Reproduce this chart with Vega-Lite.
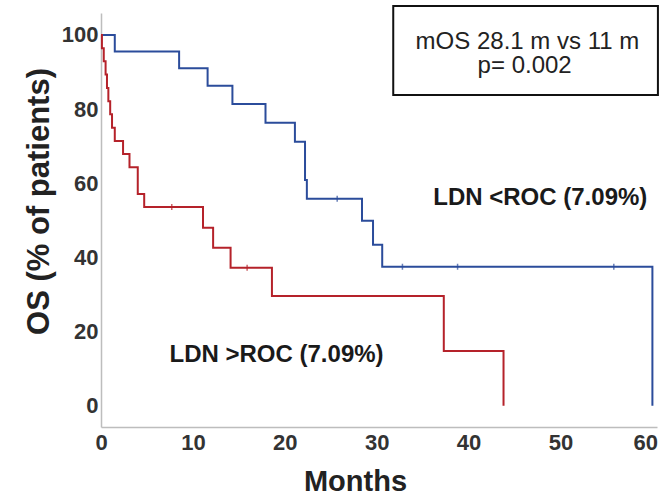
{
  "$schema": "https://vega.github.io/schema/vega-lite/v6.json",
  "width": 556,
  "height": 414,
  "autosize": {"type": "none"},
  "padding": {"left": 101, "top": 13, "right": 2, "bottom": 71},
  "background": "white",
  "config": {"view": {"stroke": null}},
  "datasets": {
    "curves": [
      {"group": "low", "month": 0, "os": 100},
      {"group": "low", "month": 1.5, "os": 95.5},
      {"group": "low", "month": 8.5, "os": 91.0},
      {"group": "low", "month": 11.6, "os": 86.3},
      {"group": "low", "month": 14.3, "os": 81.4},
      {"group": "low", "month": 17.9, "os": 76.3},
      {"group": "low", "month": 21.1, "os": 71.2},
      {"group": "low", "month": 22.2, "os": 60.9},
      {"group": "low", "month": 22.4, "os": 55.8},
      {"group": "low", "month": 28.4, "os": 49.9},
      {"group": "low", "month": 29.6, "os": 43.4},
      {"group": "low", "month": 30.6, "os": 37.5},
      {"group": "low", "month": 60.0, "os": 0},
      {"group": "high", "month": 0, "os": 100},
      {"group": "high", "month": 0.1, "os": 96.4},
      {"group": "high", "month": 0.3, "os": 92.9},
      {"group": "high", "month": 0.5, "os": 89.3},
      {"group": "high", "month": 0.65, "os": 85.7},
      {"group": "high", "month": 0.8, "os": 82.1},
      {"group": "high", "month": 1.0, "os": 78.6},
      {"group": "high", "month": 1.2, "os": 75.0},
      {"group": "high", "month": 1.5, "os": 71.4},
      {"group": "high", "month": 2.4, "os": 67.9},
      {"group": "high", "month": 3.1, "os": 64.3},
      {"group": "high", "month": 4.0, "os": 57.1},
      {"group": "high", "month": 4.7, "os": 53.6},
      {"group": "high", "month": 11.1, "os": 48.0},
      {"group": "high", "month": 12.2, "os": 42.6},
      {"group": "high", "month": 14.1, "os": 37.2},
      {"group": "high", "month": 18.6, "os": 29.6},
      {"group": "high", "month": 37.3, "os": 14.8},
      {"group": "high", "month": 43.8, "os": 0}
    ],
    "censored": [
      {"group": "high", "month": 7.7, "os": 53.6},
      {"group": "high", "month": 15.9, "os": 37.2},
      {"group": "low", "month": 25.7, "os": 55.8},
      {"group": "low", "month": 32.8, "os": 37.5},
      {"group": "low", "month": 38.8, "os": 37.5},
      {"group": "low", "month": 55.8, "os": 37.5}
    ],
    "box": [
      {"x1": 31.8, "x2": 60.6, "y1": 83.8, "y2": 107.8}
    ],
    "boxText": [
      {"month": 46.4, "os": 96.2, "label": "mOS 28.1 m vs 11 m"},
      {"month": 46.1, "os": 89.6, "label": "p= 0.002"}
    ],
    "groupText": [
      {"month": 47.8, "os": 54.2, "label": "LDN <ROC (7.09%)"},
      {"month": 19.1, "os": 11.9, "label": "LDN >ROC (7.09%)"}
    ]
  },
  "layer": [
    {
      "data": {"name": "curves"},
      "mark": {"type": "line", "interpolate": "step-after", "strokeWidth": 2},
      "encoding": {
        "x": {
          "field": "month", "type": "quantitative",
          "scale": {"domain": [0, 60.5], "nice": false, "zero": false},
          "axis": {
            "values": [0, 10, 20, 30, 40, 50, 60],
            "title": "Months",
            "grid": false, "ticks": false,
            "domainColor": "#bdbdbd", "domainWidth": 1.5,
            "labelFont": "Liberation Sans", "labelFontWeight": "bold",
            "labelFontSize": 22, "labelColor": "#333333", "labelPadding": 5,
            "labelFlush": false, "labelOverlap": false,
            "labelAlign": {"condition": {"test": "datum.value == 60", "value": "right"}, "value": "center"},
            "labelOffset": {"condition": {"test": "datum.value == 60", "value": 5}, "value": 0},
            "titleFont": "Liberation Sans", "titleFontWeight": "bold",
            "titleFontSize": 29, "titleColor": "#222222",
            "titleX": 254, "titleY": 63, "titleBaseline": "alphabetic", "titleAnchor": "middle", "titleAlign": "center"
          }
        },
        "y": {
          "field": "os", "type": "quantitative",
          "scale": {"domain": [-5.7, 105.9], "nice": false, "zero": false},
          "axis": {
            "values": [0, 20, 40, 60, 80, 100],
            "title": "OS (% of patients)",
            "grid": false, "ticks": false,
            "domainColor": "#bdbdbd", "domainWidth": 1.5,
            "labelFont": "Liberation Sans", "labelFontWeight": "bold",
            "labelFontSize": 22, "labelColor": "#333333", "labelPadding": 3,
            "labelFlush": false, "labelOverlap": false,
            "titleFont": "Liberation Sans", "titleFontWeight": "bold",
            "titleFontSize": 31, "titleColor": "#222222",
            "titleX": -53, "titleY": 188, "titleBaseline": "alphabetic", "titleAngle": -90, "titleAlign": "center"
          }
        },
        "color": {
          "field": "group", "type": "nominal",
          "scale": {"domain": ["high", "low"], "range": ["#b5222a", "#2b4c9b"]},
          "legend": null
        }
      }
    },
    {
      "data": {"name": "censored"},
      "mark": {"type": "tick", "orient": "vertical", "size": 6, "thickness": 1.5},
      "encoding": {
        "x": {"field": "month", "type": "quantitative"},
        "y": {"field": "os", "type": "quantitative"},
        "color": {"field": "group", "type": "nominal", "legend": null}
      }
    },
    {
      "data": {"name": "box"},
      "mark": {"type": "rect", "fill": "white", "stroke": "#111111", "strokeWidth": 2, "clip": false},
      "encoding": {
        "x": {"field": "x1", "type": "quantitative"},
        "x2": {"field": "x2"},
        "y": {"field": "y1", "type": "quantitative"},
        "y2": {"field": "y2"}
      }
    },
    {
      "data": {"name": "boxText"},
      "mark": {"type": "text", "font": "Liberation Sans", "fontSize": 24, "color": "#222222", "align": "center", "baseline": "alphabetic"},
      "encoding": {
        "x": {"field": "month", "type": "quantitative"},
        "y": {"field": "os", "type": "quantitative"},
        "text": {"field": "label"}
      }
    },
    {
      "data": {"name": "groupText"},
      "mark": {"type": "text", "font": "Liberation Sans", "fontWeight": "bold", "fontSize": 24, "color": "#1a1a1a", "align": "center", "baseline": "alphabetic"},
      "encoding": {
        "x": {"field": "month", "type": "quantitative"},
        "y": {"field": "os", "type": "quantitative"},
        "text": {"field": "label"}
      }
    }
  ]
}
